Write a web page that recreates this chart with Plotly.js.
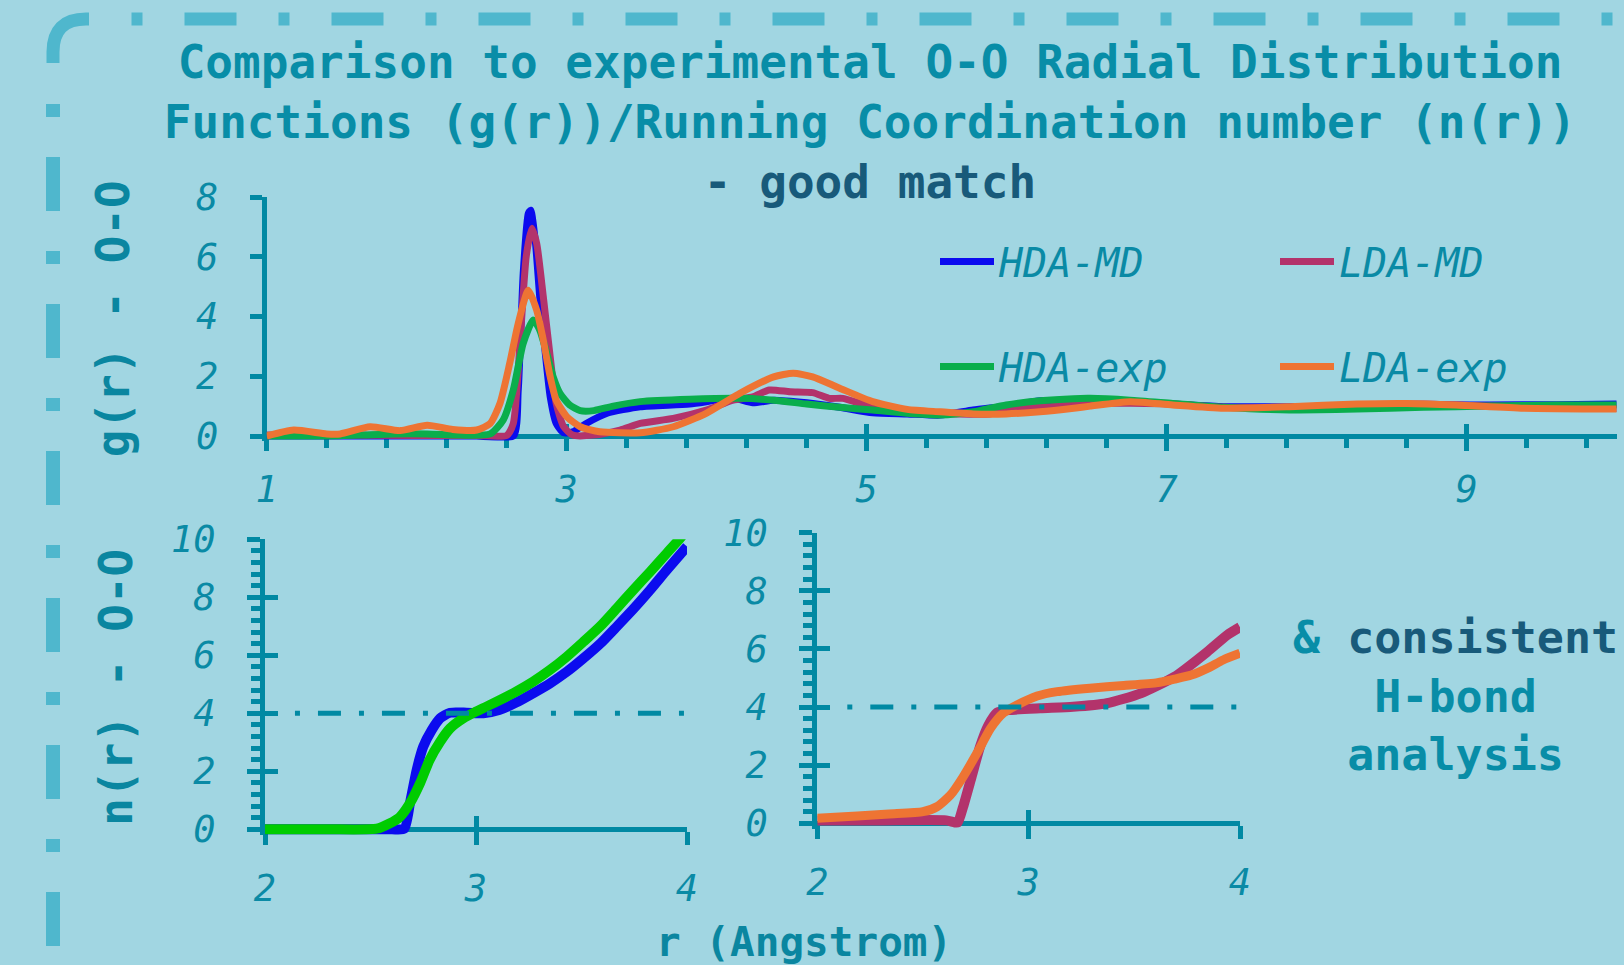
<!DOCTYPE html>
<html>
<head>
<meta charset="utf-8">
<script src="https://cdn.plot.ly/plotly-3.0.1.min.js"></script>
<style>html,body{margin:0;padding:0;background:#a1d6e2;}#chart{width:1624px;height:965px;}</style>
</head>
<body>
<div id="chart"></div>
<script>
// ---------- data ----------
// Top panel: g(r) O-O
const rHdaMd = [1.0, 1.5, 2.0, 2.4, 2.645, 2.677, 2.71, 2.744, 2.76, 2.79, 2.82, 2.855, 2.89, 2.93, 2.98, 3.04, 3.13, 3.27, 3.49, 3.82, 4.11, 4.24, 4.38, 4.6, 4.82, 5.04, 5.27, 5.49, 5.71, 5.93, 6.16, 6.38, 6.6, 7.04, 7.38, 7.82, 8.27, 8.71, 9.15, 9.6, 10.0];
const gHdaMd = [0, 0, 0, 0, 0, 1.54, 5.44, 7.45, 7.56, 6.56, 4.66, 2.88, 1.31, 0.42, 0.11, 0.14, 0.42, 0.76, 0.98, 1.07, 1.26, 1.11, 1.2, 1.11, 0.96, 0.78, 0.74, 0.7, 0.87, 1.0, 1.18, 1.2, 1.18, 1.07, 0.98, 0.98, 1.0, 1.04, 1.04, 1.05, 1.07];

const rLdaMd = [1.0, 1.5, 2.0, 2.4, 2.6, 2.644, 2.69, 2.73, 2.767, 2.80, 2.844, 2.89, 2.93, 2.98, 3.04, 3.18, 3.355, 3.49, 3.71, 3.93, 4.11, 4.24, 4.35, 4.49, 4.64, 4.75, 4.84, 4.97, 5.16, 5.38, 5.6, 5.82, 6.04, 6.27, 6.49, 7.04, 7.38, 7.82, 8.27, 8.71, 9.15, 9.6, 10.0];
const gLdaMd = [0.03, 0.03, 0.02, 0.02, 0.02, 0.42, 3.21, 6.0, 6.95, 6.44, 4.66, 2.65, 1.09, 0.31, 0.03, 0.03, 0.2, 0.42, 0.59, 0.87, 1.2, 1.31, 1.54, 1.48, 1.45, 1.26, 1.26, 1.07, 0.87, 0.78, 0.74, 0.74, 0.93, 1.0, 1.09, 1.07, 0.96, 0.96, 1.04, 1.07, 1.0, 0.94, 0.92];

const rHdaExp = [1.0, 1.4, 1.62, 1.85, 2.07, 2.29, 2.49, 2.577, 2.644, 2.71, 2.777, 2.82, 2.867, 2.91, 2.955, 3.02, 3.09, 3.18, 3.31, 3.49, 3.82, 4.155, 4.38, 4.6, 4.82, 5.04, 5.27, 5.49, 5.71, 5.93, 6.155, 6.38, 6.49, 6.755, 7.04, 7.38, 7.82, 8.27, 8.71, 9.15, 9.6, 10.0];
const gHdaExp = [0, 0, 0.03, 0.07, 0.07, 0.03, 0.07, 0.54, 1.54, 3.1, 3.88, 3.55, 2.77, 1.98, 1.43, 1.04, 0.85, 0.85, 1.0, 1.15, 1.23, 1.26, 1.2, 1.07, 0.96, 0.87, 0.76, 0.7, 0.81, 1.04, 1.18, 1.25, 1.26, 1.2, 1.09, 0.96, 0.87, 0.9, 0.96, 1.0, 1.04, 1.04];

const rLdaExp = [1.0, 1.18, 1.4, 1.49, 1.69, 1.89, 2.07, 2.24, 2.4, 2.49, 2.555, 2.62, 2.677, 2.744, 2.8, 2.844, 2.89, 2.93, 3.0, 3.09, 3.22, 3.49, 3.71, 3.93, 4.155, 4.38, 4.51, 4.64, 4.82, 5.04, 5.27, 5.49, 5.71, 5.93, 6.155, 6.38, 6.49, 6.755, 7.04, 7.38, 7.82, 8.27, 8.6, 8.93, 9.38, 10.0];
const gLdaExp = [0, 0.2, 0.07, 0.07, 0.31, 0.18, 0.36, 0.22, 0.2, 0.42, 1.09, 2.43, 3.77, 4.88, 4.21, 3.21, 1.98, 1.2, 0.65, 0.31, 0.14, 0.11, 0.31, 0.76, 1.43, 1.98, 2.1, 1.98, 1.6, 1.15, 0.89, 0.81, 0.74, 0.74, 0.81, 0.93, 1.0, 1.15, 1.04, 0.93, 0.98, 1.07, 1.09, 1.04, 0.93, 0.9];

// Bottom-left panel: n(r) HDA
const rNHdaMd = [2.0, 2.3, 2.6, 2.66, 2.687, 2.719, 2.75, 2.79, 2.83, 2.877, 2.956, 3.035, 3.11, 3.19, 3.27, 3.35, 3.43, 3.51, 3.59, 3.667, 3.745, 3.825, 3.904, 4.0];
const nHdaMd  = [0, 0, 0, 0.02, 0.9, 2.05, 2.85, 3.42, 3.83, 4.02, 4.02, 4.0, 4.11, 4.37, 4.69, 5.03, 5.43, 5.9, 6.41, 6.99, 7.59, 8.25, 8.94, 9.75];
const rNHdaExp = [2.0, 2.3, 2.53, 2.59, 2.64, 2.687, 2.735, 2.78, 2.83, 2.877, 2.94, 3.0, 3.066, 3.19, 3.27, 3.35, 3.43, 3.51, 3.59, 3.667, 3.745, 3.825, 3.904, 3.967, 4.0];
const nHdaExp  = [0, 0, 0.02, 0.2, 0.43, 0.9, 1.59, 2.39, 3.02, 3.48, 3.83, 4.06, 4.29, 4.75, 5.09, 5.49, 5.95, 6.47, 7.01, 7.62, 8.25, 8.88, 9.52, 10.03, 10.35];

// Bottom-right panel: n(r) LDA
const rNLdaMd = [2.0, 2.3, 2.61, 2.65, 2.665, 2.69, 2.73, 2.77, 2.81, 2.85, 2.913, 3.055, 3.21, 3.37, 3.53, 3.69, 3.845, 3.94, 4.0];
const nLdaMd  = [0.1, 0.1, 0.1, 0.03, 0.03, 0.57, 1.6, 2.64, 3.38, 3.81, 3.9, 3.96, 4.01, 4.13, 4.47, 5.04, 5.9, 6.48, 6.75];
const rNLdaExp = [2.0, 2.19, 2.34, 2.5, 2.566, 2.63, 2.69, 2.755, 2.82, 2.88, 2.945, 3.04, 3.135, 3.29, 3.45, 3.61, 3.69, 3.77, 3.845, 3.92, 4.0];
const nLdaExp  = [0.17, 0.25, 0.32, 0.4, 0.57, 0.97, 1.6, 2.41, 3.27, 3.79, 4.07, 4.38, 4.53, 4.65, 4.74, 4.84, 4.96, 5.1, 5.33, 5.62, 5.85];

// tetrahedral coordination reference level
const hbondLevel = 4;

const seriesNames = ['HDA-MD', 'LDA-MD', 'HDA-exp', 'LDA-exp'];

// ---------- styling ----------
const W = 1624, H = 965;
const px = v => v / W;
const py = v => 1 - v / H;

const BG = '#a1d6e2';
const AX = '#0089a3';
const TEAL = '#088da7';
const DARK = '#185a7a';
const BORDER = '#4fb7cd';
const COL = {blue: '#0b0bef', magenta: '#b3336b', green: '#0aae4c', orange: '#ee7433', lime: '#00cc00'};

const MONO = 'DejaVu Sans Mono';
const tickFont = {family: MONO, size: 37, style: 'italic', color: '#0a8aa5'};

function lineTrace(x, y, name, color, width, xa, ya, extra) {
  return Object.assign({
    type: 'scatter', mode: 'lines', x: x, y: y, name: name,
    xaxis: xa, yaxis: ya,
    line: {color: color, width: width, shape: 'spline', smoothing: 0.6},
    hoverinfo: 'skip'
  }, extra || {});
}
// empty carriers so that the tick-only overlay axes get drawn
function axisCarrier(xa, ya) {
  return {type: 'scatter', mode: 'lines', x: [], y: [], xaxis: xa, yaxis: ya,
          showlegend: false, hoverinfo: 'skip'};
}

const data = [
  lineTrace(rHdaMd, gHdaMd, seriesNames[0], COL.blue, 7, 'x', 'y', {legend: 'legend', legendgroup: 'a'}),
  lineTrace(rLdaMd, gLdaMd, seriesNames[1], COL.magenta, 7, 'x', 'y', {legend: 'legend2', legendgroup: 'b'}),
  lineTrace(rHdaExp, gHdaExp, seriesNames[2], COL.green, 7, 'x', 'y', {legend: 'legend', legendgroup: 'c'}),
  lineTrace(rLdaExp, gLdaExp, seriesNames[3], COL.orange, 7, 'x', 'y', {legend: 'legend2', legendgroup: 'd'}),
  lineTrace(rNHdaMd, nHdaMd, seriesNames[0], COL.blue, 10, 'x2', 'y2', {showlegend: false}),
  lineTrace(rNHdaExp, nHdaExp, seriesNames[2], COL.lime, 10, 'x2', 'y2', {showlegend: false}),
  lineTrace(rNLdaMd, nLdaMd, seriesNames[1], COL.magenta, 10, 'x3', 'y3', {showlegend: false}),
  lineTrace(rNLdaExp, nLdaExp, seriesNames[3], COL.orange, 9, 'x3', 'y3', {showlegend: false}),
  axisCarrier('x4', 'y'),
  axisCarrier('x5', 'y2'),
  axisCarrier('x2', 'y5'),
  axisCarrier('x6', 'y3'),
  axisCarrier('x3', 'y6')
];

// panel geometry (pixels)
const gTop = {x0: 266.7, x1: 1616.7, yTop: 197, yZero: 436, yBot: 440.5};
const gBL = {x0: 265, x1: 687, yTop: 539.3, yZero: 829.3, yBot: 835.1};
const gBR = {x0: 817.3, x1: 1240, yTop: 532.7, yZero: 823.3, yBot: 829.1};
const lowTop = -(gTop.yBot - gTop.yZero) / ((gTop.yZero - gTop.yTop) / 8);
const lowBL = -(gBL.yBot - gBL.yZero) / ((gBL.yZero - gBL.yTop) / 10);
const lowBR = -(gBR.yBot - gBR.yZero) / ((gBR.yZero - gBR.yTop) / 10);

const baseAxis = {
  showgrid: false, zeroline: false, showline: true, linecolor: AX, linewidth: 5,
  ticks: 'outside', tickcolor: AX, tickwidth: 5, tickfont: tickFont, layer: 'below traces',
  fixedrange: true
};
const overlayAxis = {
  showgrid: false, zeroline: false, showline: false, ticks: 'inside', tickcolor: AX,
  tickwidth: 5, showticklabels: false, fixedrange: true, layer: 'below traces'
};
const titleFont = {family: MONO, size: 46, weight: 'bold', color: '#0a86a0'};
const minorY = {ticks: 'outside', ticklen: 9, tickwidth: 5, tickcolor: AX, tick0: 0, dtick: 0.4, showgrid: false};

const layout = {
  width: W, height: H,
  margin: {l: 0, r: 0, t: 0, b: 0, pad: 0},
  paper_bgcolor: BG, plot_bgcolor: BG,
  showlegend: true,
  title: {
    text: 'Comparison to experimental O-O Radial Distribution<br>Functions (g(r))/Running Coordination number (n(r))<br><span style="color:' + DARK + '">- good match</span>',
    x: px(870), xanchor: 'center', y: py(78), yanchor: 'top',
    font: {family: MONO, size: 46, weight: 'bold', color: TEAL}
  },
  // top panel
  xaxis: Object.assign({}, baseAxis, {
    domain: [px(gTop.x0), px(gTop.x1)], range: [1, 10],
    anchor: 'free', position: py(gTop.yZero),
    tick0: 1, dtick: 2, ticklen: 12, ticklabelstandoff: 7,
    minor: {ticks: 'outside', ticklen: 9, tickwidth: 5, tickcolor: AX, tick0: 1, dtick: 0.4, showgrid: false}
  }),
  yaxis: Object.assign({}, baseAxis, {
    domain: [py(gTop.yBot), py(gTop.yTop)], range: [lowTop, 8],
    anchor: 'x', tick0: 0, dtick: 2, ticklen: 12, ticklabelstandoff: 24,
    title: {text: 'g(r) - O-O', standoff: 53, font: titleFont}
  }),
  xaxis4: Object.assign({}, overlayAxis, {
    overlaying: 'x', anchor: 'free', position: py(gTop.yZero), range: [1, 10],
    tick0: 1, dtick: 2, ticklen: 12
  }),
  // bottom-left panel
  xaxis2: Object.assign({}, baseAxis, {
    domain: [px(gBL.x0), px(gBL.x1)], range: [2, 4],
    anchor: 'free', position: py(gBL.yZero),
    tick0: 2, dtick: 1, ticklen: 13, ticklabelstandoff: 11
  }),
  yaxis2: Object.assign({}, baseAxis, {
    domain: [py(gBL.yBot), py(gBL.yTop)], range: [lowBL, 10],
    anchor: 'x2', tick0: 0, dtick: 2, ticklen: 13, ticklabelstandoff: 24,
    minor: minorY,
    title: {text: 'n(r) - O-O', standoff: 25, font: titleFont}
  }),
  xaxis5: Object.assign({}, overlayAxis, {
    overlaying: 'x2', anchor: 'free', position: py(gBL.yZero), range: [2, 4],
    tick0: 2, dtick: 1, ticklen: 13
  }),
  yaxis5: Object.assign({}, overlayAxis, {
    overlaying: 'y2', anchor: 'x2', range: [lowBL, 10],
    tick0: 0, dtick: 2, ticklen: 13
  }),
  // bottom-right panel
  xaxis3: Object.assign({}, baseAxis, {
    domain: [px(gBR.x0), px(gBR.x1)], range: [2, 4],
    anchor: 'free', position: py(gBR.yZero),
    tick0: 2, dtick: 1, ticklen: 13, ticklabelstandoff: 11
  }),
  yaxis3: Object.assign({}, baseAxis, {
    domain: [py(gBR.yBot), py(gBR.yTop)], range: [lowBR, 10],
    anchor: 'x3', tick0: 0, dtick: 2, ticklen: 13, ticklabelstandoff: 24,
    minor: minorY
  }),
  xaxis6: Object.assign({}, overlayAxis, {
    overlaying: 'x3', anchor: 'free', position: py(gBR.yZero), range: [2, 4],
    tick0: 2, dtick: 1, ticklen: 13
  }),
  yaxis6: Object.assign({}, overlayAxis, {
    overlaying: 'y3', anchor: 'x3', range: [lowBR, 10],
    tick0: 0, dtick: 2, ticklen: 13
  }),
  legend: {
    x: px(935), y: py(229), xanchor: 'left', yanchor: 'top', orientation: 'v',
    bgcolor: 'rgba(0,0,0,0)', borderwidth: 0, itemwidth: 54, tracegroupgap: 50,
    font: {family: MONO, size: 40, style: 'italic', color: '#0a8aa5'}
  },
  legend2: {
    x: px(1275), y: py(229), xanchor: 'left', yanchor: 'top', orientation: 'v',
    bgcolor: 'rgba(0,0,0,0)', borderwidth: 0, itemwidth: 54, tracegroupgap: 50,
    font: {family: MONO, size: 40, style: 'italic', color: '#0a8aa5'}
  },
  annotations: [
    {text: '&amp; <span style="color:' + DARK + '">consistent</span><br>H-bond<br>analysis',
     xref: 'paper', yref: 'paper', x: px(1455), y: py(609), xanchor: 'center', yanchor: 'top',
     align: 'center', showarrow: false,
     font: {family: MONO, size: 45, weight: 'bold', color: TEAL}},
    {text: 'r (Angstrom)', xref: 'paper', yref: 'paper', x: px(804), y: py(942),
     xanchor: 'center', yanchor: 'middle', showarrow: false,
     font: {family: MONO, size: 41, weight: 'bold', color: '#0a86a0'}}
  ],
  shapes: [
    // decorative frame
    {type: 'line', xref: 'paper', yref: 'paper', x0: px(131.5), x1: 1, y0: py(19), y1: py(19),
     line: {color: BORDER, width: 13, dash: '11px,42px,52px,42px'}, layer: 'below'},
    {type: 'line', xref: 'paper', yref: 'paper', x0: px(53), x1: px(53), y0: py(104), y1: 0,
     line: {color: BORDER, width: 14, dash: '13px,40px,54px,40px'}, layer: 'below'},
    {type: 'path', xref: 'paper', yref: 'paper',
     path: 'M' + px(53) + ',' + py(63) + ' L' + px(53) + ',' + py(52) + ' Q' + px(53) + ',' + py(19) + ' ' + px(86) + ',' + py(19) + ' L' + px(89) + ',' + py(19),
     line: {color: BORDER, width: 13}, fillcolor: 'rgba(0,0,0,0)', layer: 'below'},
    // n(r) = 4 reference lines
    {type: 'line', xref: 'x2', yref: 'y2', x0: 2.142, x1: 4.05, y0: hbondLevel, y1: hbondLevel,
     line: {color: AX, width: 5, dash: '5px,18px,23px,18px'}, layer: 'above'},
    {type: 'line', xref: 'x3', yref: 'y3', x0: 2.142, x1: 4.05, y0: hbondLevel, y1: hbondLevel,
     line: {color: AX, width: 5, dash: '5px,18px,23px,18px'}, layer: 'above'}
  ]
};

Plotly.newPlot('chart', data, layout, {displayModeBar: false, staticPlot: true});
</script>
</body>
</html>
